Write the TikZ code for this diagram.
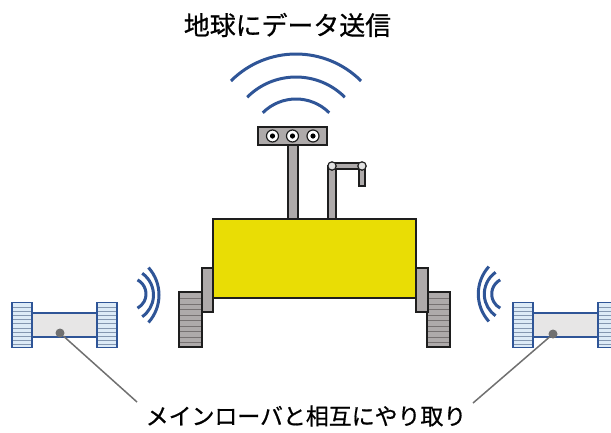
\documentclass[tikz,border=0pt]{standalone}
\usepackage{fontspec}
\newfontfamily\jpfont[FakeBold=0.7]{Noto Sans CJK JP}
\definecolor{bodyyellow}{RGB}{233,221,5}
\definecolor{partgray}{RGB}{174,170,170}
\definecolor{stripegray}{RGB}{118,113,113}
\definecolor{outline}{RGB}{30,30,30}
\definecolor{waveblue}{RGB}{47,85,151}
\definecolor{wheelblue}{RGB}{221,235,247}
\definecolor{stripeblue}{RGB}{132,151,176}
\definecolor{chassis}{RGB}{231,230,230}
\definecolor{leadgray}{RGB}{112,112,112}
\definecolor{jointgray}{RGB}{225,225,225}
\begin{document}
\begin{tikzpicture}[x=1bp,y=-1bp,
  part/.style={draw=outline, fill=partgray, line width=1.8bp},
  yellowbody/.style={draw=outline, fill=bodyyellow, line width=1.8bp},
  joint/.style={draw=outline, fill=jointgray, line width=1.2bp},
  wave/.style={draw=waveblue, line width=3bp},
  subframe/.style={draw=waveblue, fill=chassis, line width=1.6bp},
  subwheel/.style={draw=waveblue, line width=1.6bp},
  lead/.style={draw=leadgray, line width=1.5bp},
  dot/.style={circle, fill=leadgray, minimum size=9bp, inner sep=0pt},
  caption/.style={font=\jpfont\fontsize{#1}{#1}\selectfont, inner sep=0pt}
]
\useasboundingbox (0,0) rectangle (611,432);
\clip (0,0) rectangle (611,432);

% ---- main rover ----
% tracked wheels
\foreach \x in {179,427} {
  \fill[partgray] (\x,292) rectangle ++(23,55);
  \foreach \k in {0,...,8}
    \draw[stripegray, line width=1.3bp] (\x,{298.7+5.5*\k}) -- ++(23,0);
  \draw[outline, line width=1.8bp] (\x,292) rectangle ++(23,55);
}
% side plates
\draw[part] (202,268) rectangle (213,312);
\draw[part] (416,268) rectangle (428,312);
% camera mast
\draw[part] (288,145) rectangle (298,219);
% robotic arm
\draw[part] (328,166) rectangle (336,219);
\draw[part] (332,163) rectangle (362,169);
\draw[part] (359,166) rectangle (365,186);
\draw[joint] (332,166) circle[radius=4.2];
\draw[joint] (362,166) circle[radius=4.2];
% body
\draw[yellowbody] (213,219) rectangle (416,298);
% camera head
\draw[part] (258,127) rectangle (327,145);
\foreach \ex in {272.5,292.5,313} {
  \draw[outline, fill=white, line width=1.2bp] (\ex,136) circle[radius=6];
  \fill[black] (\ex,136) circle[radius=2.6];
}

% ---- signal arcs to Earth ----
\foreach \r in {47,69,92}
  \draw[wave] (296,146) ++(-135:\r) arc[start angle=-135, end angle=-45, radius=\r];

% ---- signal arcs toward the sub rovers ----
\draw[wave] (130,294) ++(-62:16) arc[start angle=-62, end angle=62, radius=16];
\draw[wave] (127,295) ++(-55:26.5) arc[start angle=-55, end angle=55, radius=26.5];
\draw[wave] (118,295) ++(-42:41) arc[start angle=-42, end angle=42, radius=41];

\draw[wave] (507.7,294) ++(-118:16) arc[start angle=-118, end angle=-242, radius=16];
\draw[wave] (510.8,294) ++(-125:26.5) arc[start angle=-125, end angle=-235, radius=26.5];
\draw[wave] (519.3,294) ++(-138:41) arc[start angle=-138, end angle=-222, radius=41];

% ---- sub rovers ----
\foreach \x in {12,513} {
  \draw[subframe] (\x+20,313) rectangle (\x+85,337);
  \foreach \w in {0,85} {
    \fill[wheelblue] (\x+\w,302.3) rectangle ++(20,45);
    \foreach \k in {0,...,9}
      \draw[stripeblue, line width=1.1bp] (\x+\w,{307.3+4.15*\k}) -- ++(20,0);
    \draw[subwheel] (\x+\w,302.3) rectangle ++(20,45);
  }
}

% ---- labels and leader lines ----
\node[caption=26] (uplink) at (287.5,25) {地球にデータ送信};
\node[caption=23] (relay) at (306,416) {メインローバと相互にやり取り};

\coordinate (lend) at (137,402);
\coordinate (rend) at (473,403);
\node[dot] (ldot) at (60,333) {};
\node[dot] (rdot) at (553,334) {};
\draw[lead] (ldot) -- (lend);
\draw[lead] (rdot) -- (rend);
\end{tikzpicture}
\end{document}
